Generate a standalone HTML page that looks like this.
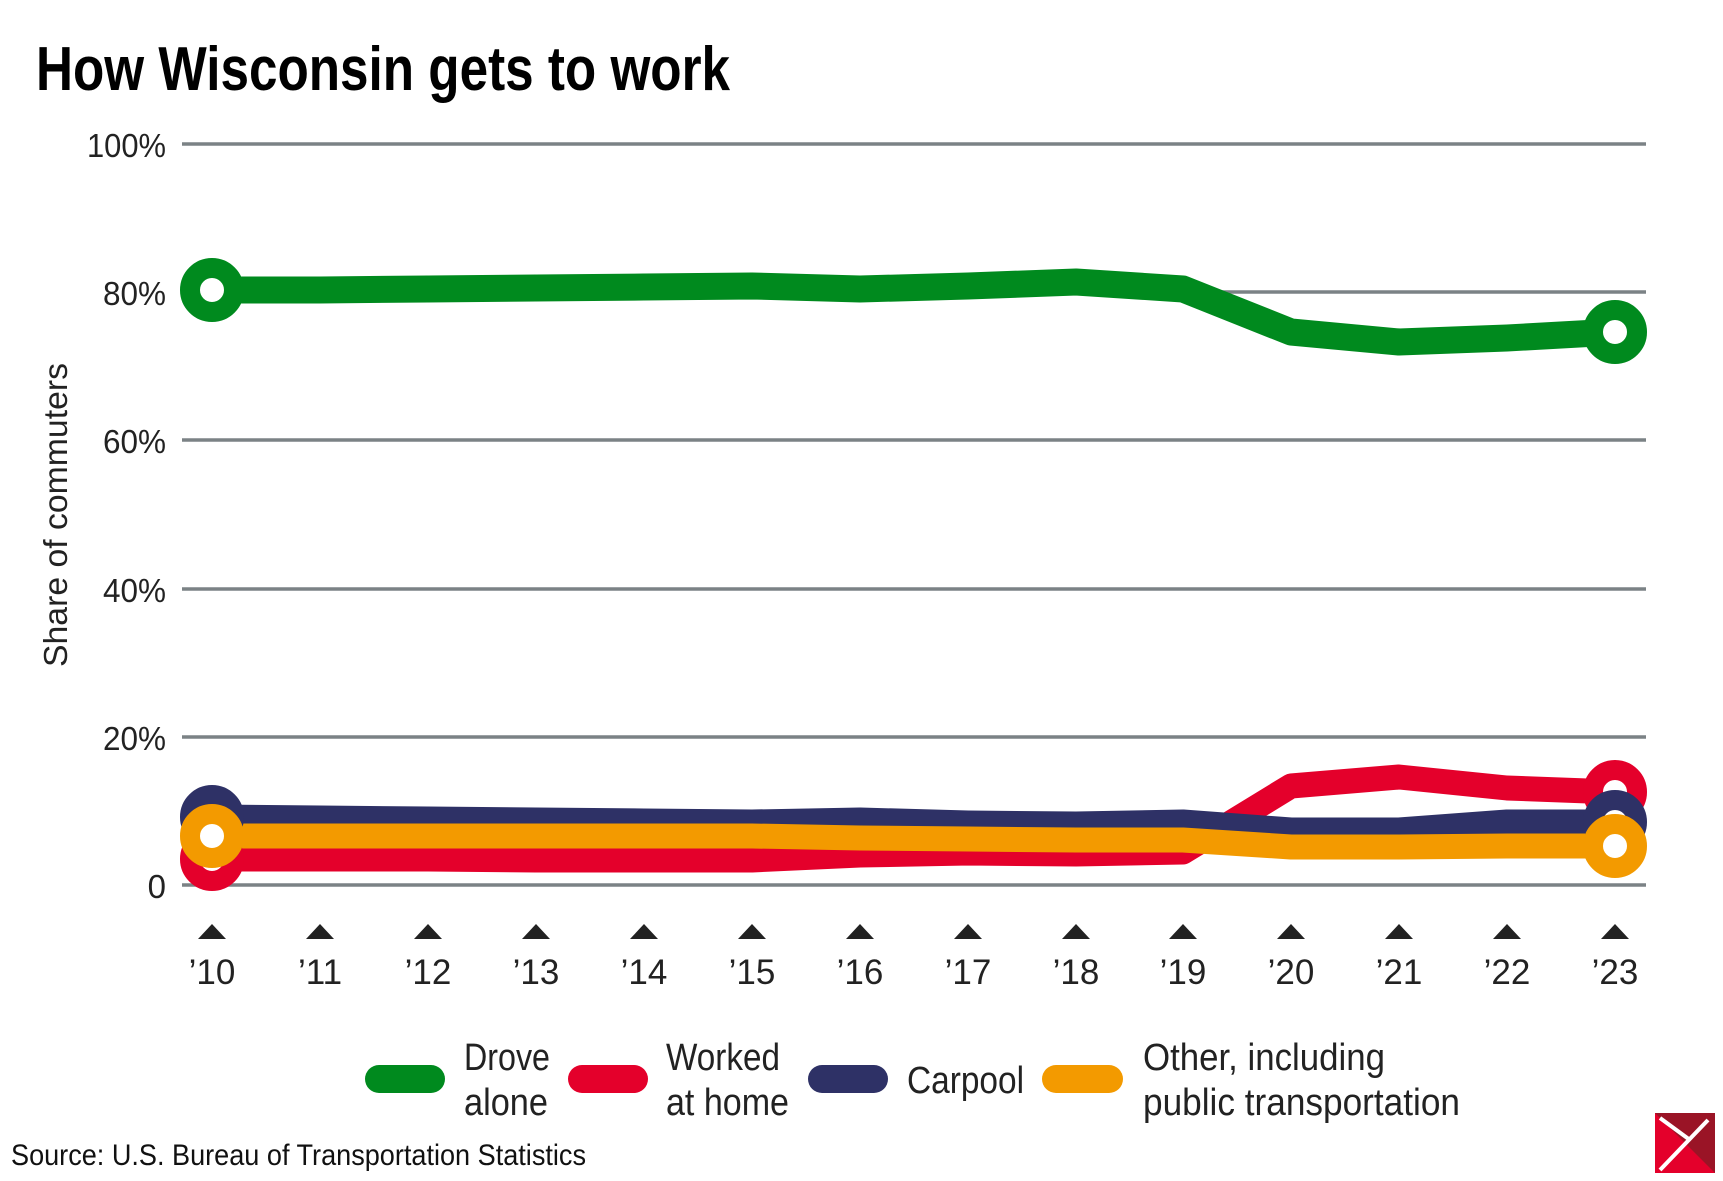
<!DOCTYPE html>
<html><head><meta charset="utf-8"><style>
html,body{margin:0;padding:0;background:#fff;}
svg{display:block;}
.n{font-family:"Liberation Sans Narrow","Liberation Sans",sans-serif;}
</style></head><body>
<svg width="1723" height="1181" viewBox="0 0 1723 1181" xmlns="http://www.w3.org/2000/svg">
<rect width="1723" height="1181" fill="#fff"/>
<text class="n" x="36" y="90" font-size="62" font-weight="bold" fill="#000" textLength="694" lengthAdjust="spacingAndGlyphs">How Wisconsin gets to work</text>
<g stroke="#7b8285" stroke-width="3.5">
<line x1="182" y1="144" x2="1646" y2="144"/>
<line x1="182" y1="292" x2="1646" y2="292"/>
<line x1="182" y1="440" x2="1646" y2="440"/>
<line x1="182" y1="589" x2="1646" y2="589"/>
<line x1="182" y1="737" x2="1646" y2="737"/>
<line x1="182" y1="885" x2="1646" y2="885"/>
</g>
<g class="n" font-size="33" fill="#222" lengthAdjust="spacingAndGlyphs">
<text x="87" y="157" textLength="79" lengthAdjust="spacingAndGlyphs">100%</text>
<text x="103" y="305" textLength="63" lengthAdjust="spacingAndGlyphs">80%</text>
<text x="103" y="453" textLength="63" lengthAdjust="spacingAndGlyphs">60%</text>
<text x="103" y="602" textLength="63" lengthAdjust="spacingAndGlyphs">40%</text>
<text x="103" y="750" textLength="63" lengthAdjust="spacingAndGlyphs">20%</text>
<text x="166" y="898" text-anchor="end">0</text>
</g>
<text x="0" y="0" transform="translate(67,515) rotate(-90)" text-anchor="middle" font-family="Liberation Sans,sans-serif" font-size="33" fill="#222" textLength="304" lengthAdjust="spacingAndGlyphs">Share of commuters</text>
<g fill="none" stroke-linejoin="round" stroke-linecap="round" stroke-width="25">
<polyline stroke="#e4002b" points="212,859 320,859 428,859 536,860 644,860 752,860 860,855 968,853 1076,854 1183,852 1291,786 1399,777 1507,788 1615,792"/>
<polyline stroke="#2e3166" points="212,817 320,818 428,819 536,820 644,821 752,822 860,820 968,823 1076,824 1183,822 1291,830 1399,830 1507,822 1615,822"/>
<polyline stroke="#f39a00" points="212,836 320,836 428,836 536,836 644,836 752,836 860,838 968,839 1076,840 1183,840 1291,847 1399,847 1507,846 1615,846"/>
<polyline stroke="#008a1e" stroke-width="27" points="212,290 320,290 428,289 536,288 644,287 752,286 860,289 968,286 1076,282 1183,289 1291,332 1399,342 1507,338 1615,332"/>
</g>
<g fill="#fff" stroke-width="20">
<circle cx="212" cy="859" r="22" stroke="#e4002b"/>
<circle cx="212" cy="817" r="22" stroke="#2e3166"/>
<circle cx="1615" cy="792" r="22" stroke="#e4002b"/>
<circle cx="1615" cy="822" r="22" stroke="#2e3166"/>
<circle cx="212" cy="836" r="22" stroke="#f39a00"/>
<circle cx="1615" cy="846" r="22" stroke="#f39a00"/>
<circle cx="212" cy="290" r="22" stroke="#008a1e"/>
<circle cx="1615" cy="332" r="22" stroke="#008a1e"/>
</g>
<g fill="#222">
<path d="M198,939 L226,939 L212,924 Z"/><path d="M306,939 L334,939 L320,924 Z"/><path d="M414,939 L442,939 L428,924 Z"/><path d="M522,939 L550,939 L536,924 Z"/><path d="M630,939 L658,939 L644,924 Z"/><path d="M738,939 L766,939 L752,924 Z"/><path d="M846,939 L874,939 L860,924 Z"/><path d="M954,939 L982,939 L968,924 Z"/><path d="M1062,939 L1090,939 L1076,924 Z"/><path d="M1169,939 L1197,939 L1183,924 Z"/><path d="M1277,939 L1305,939 L1291,924 Z"/><path d="M1385,939 L1413,939 L1399,924 Z"/><path d="M1493,939 L1521,939 L1507,924 Z"/><path d="M1601,939 L1629,939 L1615,924 Z"/>
</g>
<g class="n" font-size="35" fill="#222" text-anchor="middle">
<text x="212" y="984">’10</text><text x="320" y="984">’11</text><text x="428" y="984">’12</text><text x="536" y="984">’13</text><text x="644" y="984">’14</text><text x="752" y="984">’15</text><text x="860" y="984">’16</text><text x="968" y="984">’17</text><text x="1076" y="984">’18</text><text x="1183" y="984">’19</text><text x="1291" y="984">’20</text><text x="1399" y="984">’21</text><text x="1507" y="984">’22</text><text x="1615" y="984">’23</text>
</g>
<g stroke-linecap="round" stroke-width="28">
<line x1="379" y1="1079" x2="431" y2="1079" stroke="#008a1e"/>
<line x1="582" y1="1079" x2="634" y2="1079" stroke="#e4002b"/>
<line x1="822" y1="1079" x2="874" y2="1079" stroke="#2e3166"/>
<line x1="1056" y1="1079" x2="1109" y2="1079" stroke="#f39a00"/>
</g>
<g class="n" font-size="38" fill="#222">
<text x="464" y="1070" textLength="86" lengthAdjust="spacingAndGlyphs">Drove</text><text x="464" y="1115" textLength="84" lengthAdjust="spacingAndGlyphs">alone</text>
<text x="666" y="1070" textLength="114" lengthAdjust="spacingAndGlyphs">Worked</text><text x="666" y="1115" textLength="123" lengthAdjust="spacingAndGlyphs">at home</text>
<text x="907" y="1093" textLength="117" lengthAdjust="spacingAndGlyphs">Carpool</text>
<text x="1143" y="1070" textLength="242" lengthAdjust="spacingAndGlyphs">Other, including</text><text x="1143" y="1115" textLength="317" lengthAdjust="spacingAndGlyphs">public transportation</text>
</g>
<text class="n" x="11" y="1165" font-size="30" fill="#111" textLength="575" lengthAdjust="spacingAndGlyphs">Source: U.S. Bureau of Transportation Statistics</text>
<g>
<rect x="1655" y="1113" width="60" height="60" fill="#e4002b"/>
<path d="M1655,1113 L1715,1113 L1715,1173 Z" fill="#9a1426"/>
<path d="M1660,1118 L1690,1140 M1708,1120 L1660,1170" stroke="#fff" stroke-width="4" fill="none"/>
</g>
</svg>
</body></html>
